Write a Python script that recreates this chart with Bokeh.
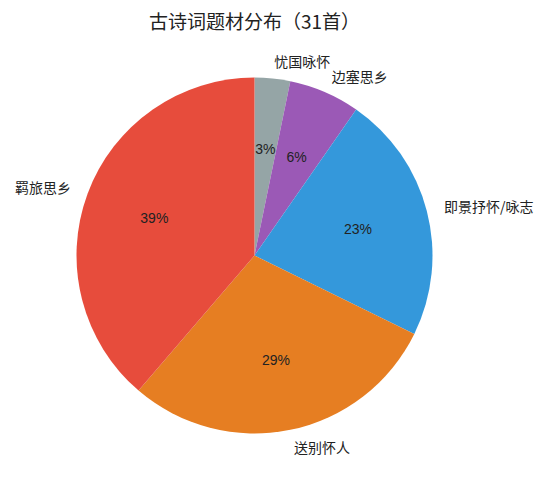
import math
from bokeh.plotting import figure
from bokeh.models import Range1d, ColumnDataSource
from bokeh.core.properties import value
from bokeh.embed import file_html
from bokeh.resources import INLINE

title_text = "古诗词题材分布（31首）"
categories = ["忧国咏怀", "边塞思乡", "即景抒怀/咏志", "送别怀人", "羁旅思乡"]
counts = [1, 2, 7, 9, 12]
colors = ["#95a5a6", "#9b59b6", "#3498db", "#e67e22", "#e74c3c"]

W, H = 536, 470
scale = 178.0
cx_px, cy_px = 254.0, 255.0

p = figure(width=W, height=H, output_backend="svg", toolbar_location=None,
           x_range=Range1d(-cx_px / scale, (W - cx_px) / scale),
           y_range=Range1d(-(H - cy_px) / scale, cy_px / scale),
           min_border=0)
p.axis.visible = False
p.grid.visible = False
p.outline_line_color = None
p.background_fill_color = "white"

total = sum(counts)
starts, ends, mids = [], [], []
cum = 0.0
for c in counts:
    a0 = cum / total
    cum += c
    a1 = cum / total
    starts.append(math.pi / 2 - 2 * math.pi * a1)
    ends.append(math.pi / 2 - 2 * math.pi * a0)
    mids.append(math.pi / 2 - 2 * math.pi * (a0 + a1) / 2)

src = ColumnDataSource(dict(start=starts, end=ends, color=colors))
p.wedge(x=0, y=0, radius=1.0, start_angle="start", end_angle="end",
        direction="anticlock", fill_color="color", line_color=None, source=src)

lx = [1.1 * math.cos(m) for m in mids]
ly = [1.1 * math.sin(m) for m in mids]
align = ["left" if x > 0 else "right" for x in lx]
p.text(x=lx, y=ly, text=categories, text_align=align, text_baseline="middle",
       text_font=value("Noto Sans CJK SC"), text_font_size="14px", text_color="#222222")

px = [0.6 * math.cos(m) for m in mids]
py = [0.6 * math.sin(m) for m in mids]
pct = ["%1.0f%%" % (100.0 * c / total) for c in counts]
p.text(x=px, y=py, text=pct, text_align="center", text_baseline="middle",
       text_font=value("Liberation Sans"), text_font_size="14px", text_color="#222222")

p.text(x=[0], y=[cy_px / scale], y_offset=20, text=[title_text], text_align="center",
       text_baseline="middle", text_font=value("Noto Sans CJK SC"),
       text_font_size="19px", text_color="#222222")

open("out.html", "w").write(file_html(p, INLINE))
